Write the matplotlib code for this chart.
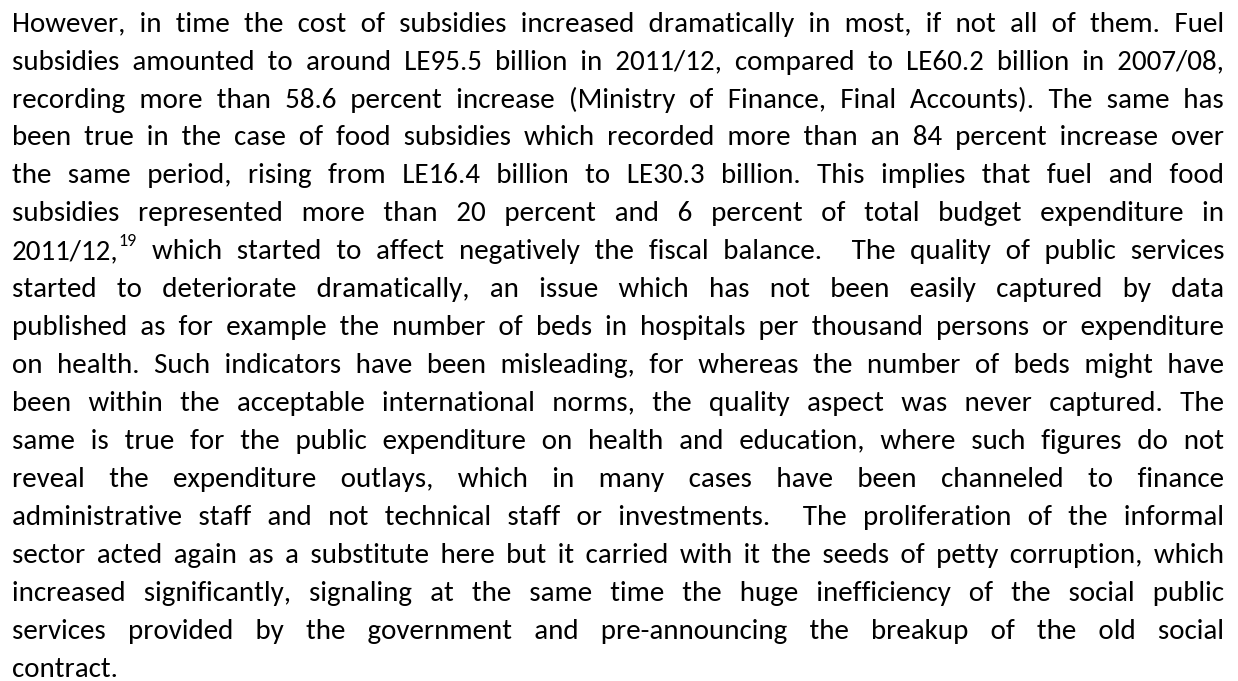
import itertools
import matplotlib
matplotlib.use("Agg")
import matplotlib.pyplot as plt

lines = [
    "However, in time the cost of subsidies increased dramatically in most, if not all of them. Fuel",
    "subsidies amounted to around LE95.5 billion in 2011/12, compared to LE60.2 billion in 2007/08,",
    "recording more than 58.6 percent increase (Ministry of Finance, Final Accounts). The same has",
    "been true in the case of food subsidies which recorded more than an 84 percent increase over",
    "the same period, rising from LE16.4 billion to LE30.3 billion. This implies that fuel and food",
    "subsidies represented more than 20 percent and 6 percent of total budget expenditure in",
    "2011/12,^19 which started to affect negatively the fiscal balance.  The quality of public services",
    "started to deteriorate dramatically, an issue which has not been easily captured by data",
    "published as for example the number of beds in hospitals per thousand persons or expenditure",
    "on health. Such indicators have been misleading, for whereas the number of beds might have",
    "been within the acceptable international norms, the quality aspect was never captured. The",
    "same is true for the public expenditure on health and education, where such figures do not",
    "reveal the expenditure outlays, which in many cases have been channeled to finance",
    "administrative staff and not technical staff or investments.  The proliferation of the informal",
    "sector acted again as a substitute here but it carried with it the seeds of petty corruption, which",
    "increased significantly, signaling at the same time the huge inefficiency of the social public",
    "services provided by the government and pre-announcing the breakup of the old social",
    "contract.",
]

W, H = 1238, 681
fig = plt.figure(figsize=(W / 100, H / 100), dpi=100)
fig.patch.set_facecolor("white")
ax = fig.add_axes([0, 0, 1, 1])
ax.set_xlim(0, W)
ax.set_ylim(H, 0)
ax.axis("off")

FAMILY = ["Carlito", "DejaVu Sans"]
FS = 20.9
SUP_FS = FS * 0.62
LEFT, RIGHT = 12, 1224
TOP, LEAD = 31.6, 37.95
renderer = fig.canvas.get_renderer()
_cache = {}


def measure(s, fs):
    key = (s, fs)
    if key not in _cache:
        t = ax.text(0, 0, s, fontsize=fs, family=FAMILY)
        _cache[key] = t.get_window_extent(renderer).width
        t.remove()
    return _cache[key]


def split_tok(tok):
    if "^" in tok:
        a, b = tok.split("^")
        return a, b
    return tok, None


def token_width(tok):
    if tok == "":
        return 0.0
    a, b = split_tok(tok)
    w = measure(a, FS)
    if b:
        w += measure(b, SUP_FS)
    return w


space_w = measure("x x", FS) - measure("xx", FS)

# available space characters and their widths, used to build justified gaps
units = []
for u in [" ", "\u2009", "\u200a", "\u2006", "\u2005", "\u2004", "\u2002"]:
    w = measure("x" + u + "x", FS) - measure("xx", FS)
    if 0.5 < w < 20:
        units.append((u, w))
combos = []
for n in range(1, 5):
    for c in itertools.combinations_with_replacement(range(len(units)), n):
        combos.append((sum(units[j][1] for j in c), n,
                       "".join(units[j][0] for j in c)))


def best_gap(target):
    return min(combos, key=lambda t: abs(t[0] - target) + 0.02 * t[1])[2]


for i, line in enumerate(lines):
    y = float(int(TOP + i * LEAD + 0.5)) + 0.49
    toks = line.split(" ")
    widths = [token_width(t) for t in toks]
    ngaps = len(toks) - 1
    if i == len(lines) - 1 or ngaps == 0:
        gap = space_w
    else:
        gap = (RIGHT - LEFT - sum(widths)) / ngaps
    starts = [LEFT + sum(widths[:k]) + k * gap for k in range(len(toks))]
    # split the line into runs; a run ends after a token carrying a superscript
    runs = []
    S, x0 = "", None
    for k, tok in enumerate(toks):
        if not tok:
            continue
        m, sup = split_tok(tok)
        if S == "":
            S, x0 = m, starts[k]
        else:
            pos1 = x0 + measure(S + " " + m, FS) - measure(m, FS)
            S = S + best_gap(space_w + starts[k] - pos1) + m
        if sup:
            runs.append((x0, S, FS, 0))
            runs.append((starts[k] + measure(m, FS), sup, SUP_FS, -13))
            S, x0 = "", None
    if S:
        runs.append((x0, S, FS, 0))
    for rx, rs, rf, dy in runs:
        ax.text(rx, y + dy, rs, fontsize=rf, family=FAMILY, color="black",
                va="baseline", ha="left")

fig.savefig("out.png", dpi=100, facecolor="white")
